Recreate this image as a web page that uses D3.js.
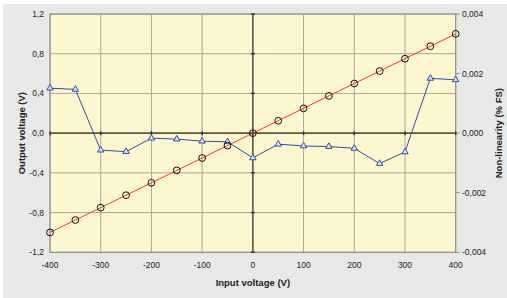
<!DOCTYPE html>
<html lang="en">
<head>
  <meta charset="utf-8">
  <title>Output voltage and non-linearity</title>
  <script src="https://d3js.org/d3.v7.min.js"></script>
  <style>
    body { margin: 0; background: #fff; }
    text { font-family: "Liberation Sans", Arial, sans-serif; fill: #222; }
  </style>
</head>
<body>
<script>
  // input voltage steps (V)
  var inputVoltage = [-400, -350, -300, -250, -200, -150, -100, -50, 0, 50, 100, 150, 200, 250, 300, 350, 400];
  // output voltage (V), left axis
  var outputVoltage = [-1.0, -0.875, -0.75, -0.625, -0.5, -0.375, -0.25, -0.125, 0, 0.125, 0.25, 0.375, 0.5, 0.625, 0.75, 0.875, 1.0];
  // non-linearity (% FS), right axis
  var nonLinearity = [0.00151, 0.00147, -0.00057, -0.00062, -0.00017, -0.0002, -0.00027, -0.00029, -0.00083,
                      -0.00037, -0.00043, -0.00045, -0.00051, -0.00102, -0.00063, 0.00184, 0.00179];

  var xTicks = [-400, -300, -200, -100, 0, 100, 200, 300, 400];
  var yLeftTicks = [-1.2, -0.8, -0.4, 0, 0.4, 0.8, 1.2];
  var yRightTicks = [-0.004, -0.002, 0, 0.002, 0.004];

  // note: "top" is a reserved window property, so use plot* names
  var w = 507, h = 298;
  var plotL = 50, plotR = 455.7, plotT = 14, plotB = 252.3;

  var loc = d3.formatLocale({decimal: ",", thousands: ".", grouping: [3], currency: ["", ""], minus: "-"});
  var fmt1 = loc.format(".1f");
  var fmt3 = loc.format(".3f");

  var x = d3.scaleLinear().domain([-400, 400]).range([plotL, plotR]);
  var yL = d3.scaleLinear().domain([-1.2, 1.2]).range([plotB, plotT]);
  var yR = d3.scaleLinear().domain([-0.004, 0.004]).range([plotB, plotT]);

  var svg = d3.select("body").append("svg")
    .attr("width", w)
    .attr("height", h);

  // grey background panel
  svg.append("rect")
    .attr("x", 3).attr("y", 4)
    .attr("width", w - 3).attr("height", h - 4)
    .attr("fill", "#e8e8e8");

  // plot area
  svg.append("rect")
    .attr("x", plotL).attr("y", plotT)
    .attr("width", plotR - plotL).attr("height", plotB - plotT)
    .attr("fill", "#fdf7d0");

  // grid lines
  svg.selectAll(".vgrid")
    .data(xTicks.filter(function(d) { return d !== 0; }))
    .enter().append("line")
    .attr("x1", function(d) { return x(d); })
    .attr("x2", function(d) { return x(d); })
    .attr("y1", plotT).attr("y2", plotB)
    .attr("stroke", "#a9a79a").attr("stroke-width", 1);

  svg.selectAll(".hgrid")
    .data(yLeftTicks.filter(function(d) { return d !== 0; }))
    .enter().append("line")
    .attr("x1", plotL).attr("x2", plotR)
    .attr("y1", function(d) { return yL(d); })
    .attr("y2", function(d) { return yL(d); })
    .attr("stroke", "#a9a79a").attr("stroke-width", 1);

  // plot border
  svg.append("rect")
    .attr("x", plotL).attr("y", plotT)
    .attr("width", plotR - plotL).attr("height", plotB - plotT)
    .attr("fill", "none")
    .attr("stroke", "#8c8c8c").attr("stroke-width", 1);

  // zero axes
  svg.append("line")
    .attr("x1", plotL).attr("x2", plotR)
    .attr("y1", yL(0)).attr("y2", yL(0))
    .attr("stroke", "#5a5648").attr("stroke-width", 1.6);
  svg.append("line")
    .attr("x1", x(0)).attr("x2", x(0))
    .attr("y1", plotT).attr("y2", plotB)
    .attr("stroke", "#5a5648").attr("stroke-width", 1.6);

  // small ticks on zero axes
  svg.selectAll(".xzt")
    .data(xTicks)
    .enter().append("line")
    .attr("x1", function(d) { return x(d); })
    .attr("x2", function(d) { return x(d); })
    .attr("y1", yL(0) - 2).attr("y2", yL(0) + 2)
    .attr("stroke", "#333").attr("stroke-width", 1.4);
  svg.selectAll(".yzt")
    .data(yLeftTicks)
    .enter().append("line")
    .attr("x1", x(0) - 2).attr("x2", x(0) + 2)
    .attr("y1", function(d) { return yL(d); })
    .attr("y2", function(d) { return yL(d); })
    .attr("stroke", "#333").attr("stroke-width", 1.4);

  // right axis ticks
  svg.selectAll(".rt")
    .data(yRightTicks)
    .enter().append("line")
    .attr("x1", plotR).attr("x2", plotR + 4)
    .attr("y1", function(d) { return yR(d); })
    .attr("y2", function(d) { return yR(d); })
    .attr("stroke", "#8c8c8c");

  // tick labels
  svg.selectAll(".xl")
    .data(xTicks)
    .enter().append("text")
    .attr("x", function(d) { return x(d); })
    .attr("y", 268)
    .attr("text-anchor", "middle")
    .style("font-size", "8.5px")
    .text(function(d) { return d; });

  svg.selectAll(".yl")
    .data(yLeftTicks)
    .enter().append("text")
    .attr("x", 44)
    .attr("y", function(d) { return yL(d) + 3; })
    .attr("text-anchor", "end")
    .style("font-size", "8.5px")
    .text(function(d) { return fmt1(d); });

  svg.selectAll(".yr")
    .data(yRightTicks)
    .enter().append("text")
    .attr("x", 462)
    .attr("y", function(d) { return yR(d) + 3; })
    .style("font-size", "8.5px")
    .text(function(d) { return fmt3(d); });

  // axis titles
  svg.append("text")
    .attr("x", (plotL + plotR) / 2).attr("y", 286)
    .attr("text-anchor", "middle")
    .style("font-size", "9.5px").style("font-weight", "bold")
    .text("Input voltage (V)");

  svg.append("text")
    .attr("transform", "translate(25," + ((plotT + plotB) / 2) + ") rotate(-90)")
    .attr("text-anchor", "middle")
    .style("font-size", "9.5px").style("font-weight", "bold")
    .text("Output voltage (V)");

  svg.append("text")
    .attr("transform", "translate(502," + ((plotT + plotB) / 2) + ") rotate(-90)")
    .attr("text-anchor", "middle")
    .style("font-size", "9.5px").style("font-weight", "bold")
    .text("Non-linearity (% FS)");

  // non-linearity series
  var nl = inputVoltage.map(function(v, i) { return {x: v, y: nonLinearity[i]}; });
  svg.append("path")
    .datum(nl)
    .attr("fill", "none")
    .attr("stroke", "#2f4fa3").attr("stroke-width", 1)
    .attr("d", d3.line().x(function(d) { return x(d.x); }).y(function(d) { return yR(d.y); }));

  svg.selectAll(".tri")
    .data(nl)
    .enter().append("path")
    .attr("transform", function(d) { return "translate(" + x(d.x) + "," + yR(d.y) + ")"; })
    .attr("d", d3.symbol().type(d3.symbolTriangle).size(18))
    .attr("fill", "#dfe3ef")
    .attr("stroke", "#2f4fa3").attr("stroke-width", 1);

  // output voltage series
  var ov = inputVoltage.map(function(v, i) { return {x: v, y: outputVoltage[i]}; });
  svg.append("path")
    .datum(ov)
    .attr("fill", "none")
    .attr("stroke", "#f03a32").attr("stroke-width", 1)
    .attr("d", d3.line().x(function(d) { return x(d.x); }).y(function(d) { return yL(d.y); }));

  svg.selectAll(".circ")
    .data(ov)
    .enter().append("circle")
    .attr("cx", function(d) { return x(d.x); })
    .attr("cy", function(d) { return yL(d.y); })
    .attr("r", 3.4)
    .attr("fill", "none")
    .attr("stroke", "#111").attr("stroke-width", 1);
</script>
</body>
</html>
